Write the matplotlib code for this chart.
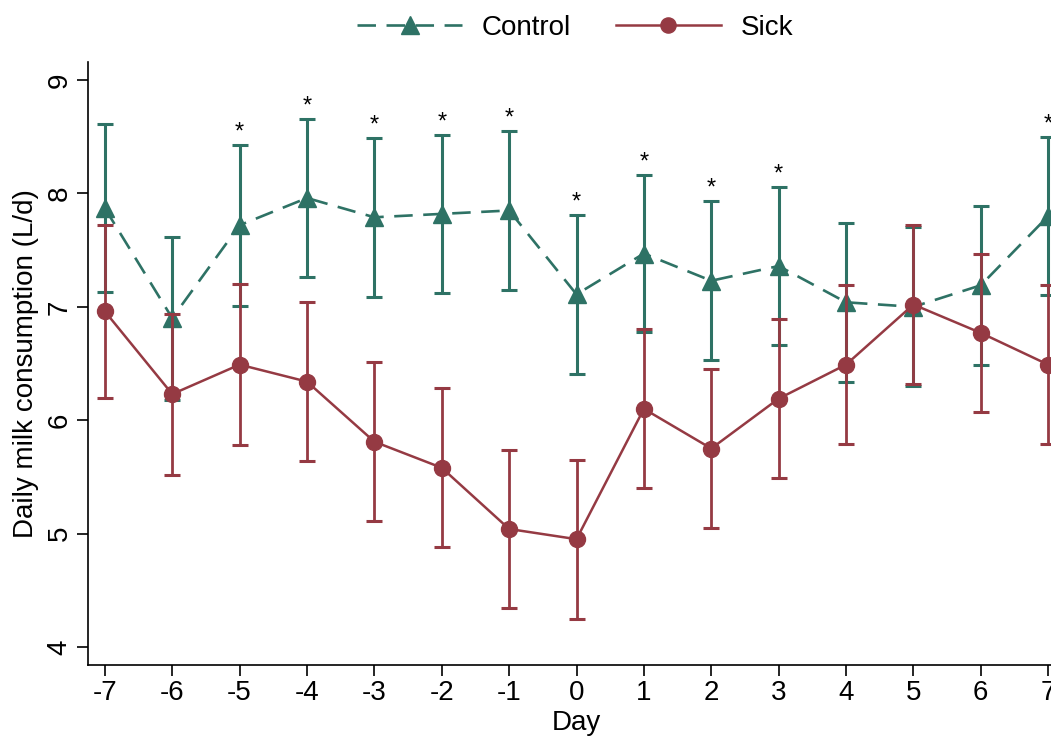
import matplotlib
matplotlib.use("Agg")
import matplotlib.pyplot as plt
import numpy as np

plt.rcParams["font.family"] = ["Liberation Sans", "DejaVu Sans"]

# jours autour de l'evenement
days = [-7, -6, -5, -4, -3, -2, -1, 0, 1, 2, 3, 4, 5, 6, 7]

control_mean = [7.87, 6.90, 7.72, 7.96, 7.79, 7.82, 7.85, 7.11, 7.47, 7.23, 7.36, 7.04, 7.00, 7.19, 7.80]
control_err = [0.74, 0.72, 0.71, 0.70, 0.70, 0.70, 0.70, 0.70, 0.69, 0.70, 0.70, 0.70, 0.70, 0.70, 0.70]

sick_mean = [6.96, 6.23, 6.49, 6.34, 5.81, 5.58, 5.04, 4.95, 6.10, 5.75, 6.19, 6.49, 7.02, 6.77, 6.49]
sick_err = [0.76, 0.71, 0.71, 0.70, 0.70, 0.70, 0.70, 0.70, 0.70, 0.70, 0.70, 0.70, 0.70, 0.70, 0.70]

# jours avec difference significative
star_days = [-5, -4, -3, -2, -1, 0, 1, 2, 3, 7]

yticks = [4, 5, 6, 7, 8, 9]

vert = "#2e7265"
rouge = "#953a43"
taille = 20

fig = plt.figure(figsize=(10.51, 7.40), dpi=100)
ax = fig.add_axes([88 / 1051, 75 / 740, 977 / 1051, 603 / 740])

ax.errorbar(days, control_mean, yerr=control_err, fmt="none", ecolor=vert,
            elinewidth=2.2, capsize=5.5, capthick=2.2, zorder=2)
ax.plot(days, control_mean, color=vert, linewidth=1.9, dashes=(7, 4),
        marker="^", markersize=13, label="Control", zorder=3)

ax.errorbar(days, sick_mean, yerr=sick_err, fmt="none", ecolor=rouge,
            elinewidth=2.0, capsize=5.5, capthick=2.2, zorder=4)
ax.plot(days, sick_mean, color=rouge, linewidth=1.8, marker="o",
        markersize=11.5, label="Sick", zorder=5)

for d in star_days:
    i = days.index(d)
    ax.annotate("*", (d, control_mean[i] + control_err[i]), xytext=(0, 1),
                textcoords="offset points", ha="center", va="bottom",
                fontsize=17, annotation_clip=False)

ax.set_xlim(-7.25, 7.25)
ax.set_ylim(3.84, 9.16)
ax.set_xticks(days)
ax.set_xticklabels([str(d) for d in days])
ax.set_yticks(yticks)

for s in ["top", "right"]:
    ax.spines[s].set_visible(False)
for s in ["left", "bottom"]:
    ax.spines[s].set_linewidth(1.2)

ax.tick_params(axis="both", labelsize=taille, length=8, width=1.2, pad=3)
ax.tick_params(axis="y", labelrotation=90)
for lab in ax.get_yticklabels():
    lab.set_va("center")

ax.set_xlabel("Day", fontsize=taille, labelpad=3)
ax.set_ylabel("Daily milk consumption (L/d)", fontsize=taille)
ax.yaxis.set_label_coords(-0.05, 0.5)

fig.legend(loc="center", bbox_to_anchor=(575 / 1051, 1 - 28 / 740), ncol=2,
           frameon=False, fontsize=taille, handlelength=3.8, handletextpad=0.7,
           columnspacing=1.6, markerscale=0.95)

plt.savefig("out.png", dpi=100)
